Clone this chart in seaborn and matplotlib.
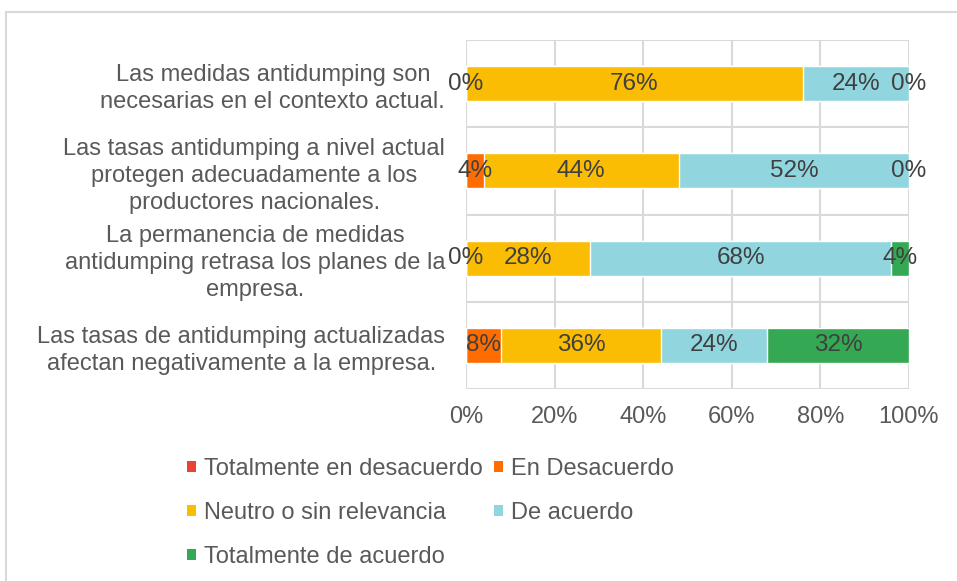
import numpy as np
import pandas as pd
import matplotlib
matplotlib.use("Agg")
import matplotlib.pyplot as plt
import seaborn as sns
from matplotlib.patches import Patch, Rectangle

# datos
categorias = [
    "Las medidas antidumping son\nnecesarias en el contexto actual.",
    "Las tasas antidumping a nivel actual\nprotegen adecuadamente a los\nproductores nacionales.",
    "La permanencia de medidas\nantidumping retrasa los planes de la\nempresa.",
    "Las tasas de antidumping actualizadas\nafectan negativamente a la empresa.",
]
series = [
    "Totalmente en desacuerdo",
    "En Desacuerdo",
    "Neutro o sin relevancia",
    "De acuerdo",
    "Totalmente de acuerdo",
]
tot_desacuerdo = [0, 0, 0, 0]
en_desacuerdo = [0, 4, 0, 8]
neutro = [76, 44, 28, 36]
de_acuerdo = [24, 52, 68, 24]
tot_acuerdo = [0, 0, 4, 32]
colores = ["#EA4335", "#FF6D01", "#FBBC04", "#91D6DE", "#34A853"]
ticks_x = [0, 20, 40, 60, 80, 100]

valores = np.array([tot_desacuerdo, en_desacuerdo, neutro, de_acuerdo, tot_acuerdo], dtype=float)
acumulado = valores.cumsum(axis=0)

sns.set_style("white")
plt.rcParams["font.family"] = ["Liberation Sans", "DejaVu Sans"]

fig = plt.figure(figsize=(9.57, 5.81), dpi=100)
ax = fig.add_axes([466 / 957, 1 - 389 / 581, 443 / 957, 349 / 581])

# barras apiladas: se dibuja el acumulado de mayor a menor
for i in range(len(series) - 1, -1, -1):
    df = pd.DataFrame({"categoria": categorias, "valor": acumulado[i]})
    sns.barplot(data=df, x="valor", y="categoria", orient="h", color=colores[i],
                width=0.4, saturation=1, ax=ax, zorder=3)

# etiquetas de datos
centros = acumulado - valores / 2
for j in range(len(categorias)):
    for i in range(len(series)):
        v = valores[i, j]
        pos = centros[i, j]
        if v == 0:
            cerca = any(valores[k, j] > 0 and abs(centros[k, j] - pos) < 10
                        for k in range(len(series)))
            if cerca or (i > 0 and valores[i - 1, j] == 0 and centros[i - 1, j] == pos):
                continue
        ax.text(pos, j, f"{v:.0f}%", ha="center", va="center", fontsize=17.5,
                color="#404040", zorder=5, clip_on=False)

ax.set_xlim(0, 100)
ax.set_ylim(3.5, -0.5)
ax.set_xticks(ticks_x)
ax.set_xticklabels([f"{t}%" for t in ticks_x])
ax.set_yticks(range(len(categorias)))
ax.set_yticklabels(categorias, multialignment="center", linespacing=1.28)
ax.set_yticks(np.arange(-0.5, 4, 1), minor=True)
ax.set_xlabel("")
ax.set_ylabel("")
ax.tick_params(axis="both", which="both", length=0, labelsize=17, colors="#595959")
ax.tick_params(axis="x", pad=12)
ax.tick_params(axis="y", pad=15)
ax.grid(True, axis="x", which="major", color="#D9D9D9", linewidth=1.5, zorder=0)
ax.grid(True, axis="y", which="minor", color="#D9D9D9", linewidth=1.5, zorder=0)
for s in ax.spines.values():
    s.set_visible(False)

# leyenda en orden por filas
orden = [0, 2, 4, 1, 3]
handles = [Patch(facecolor=colores[i], edgecolor="none") for i in orden]
labels = [series[i] for i in orden]
fig.legend(handles, labels, ncol=2, loc="upper left",
           bbox_to_anchor=(166 / 957, 1 - 437 / 581), frameon=False,
           fontsize=17, labelcolor="#595959", handlelength=0.35, handleheight=0.35,
           handletextpad=0.35, columnspacing=0.5, labelspacing=0.93)

# marco exterior
fig.patches.append(Rectangle((6 / 957, -0.01), 1.0, 1 - 12 / 581 + 0.01,
                             transform=fig.transFigure, fill=False,
                             edgecolor="#D9D9D9", linewidth=1.5))

fig.savefig("out.png", dpi=100)
